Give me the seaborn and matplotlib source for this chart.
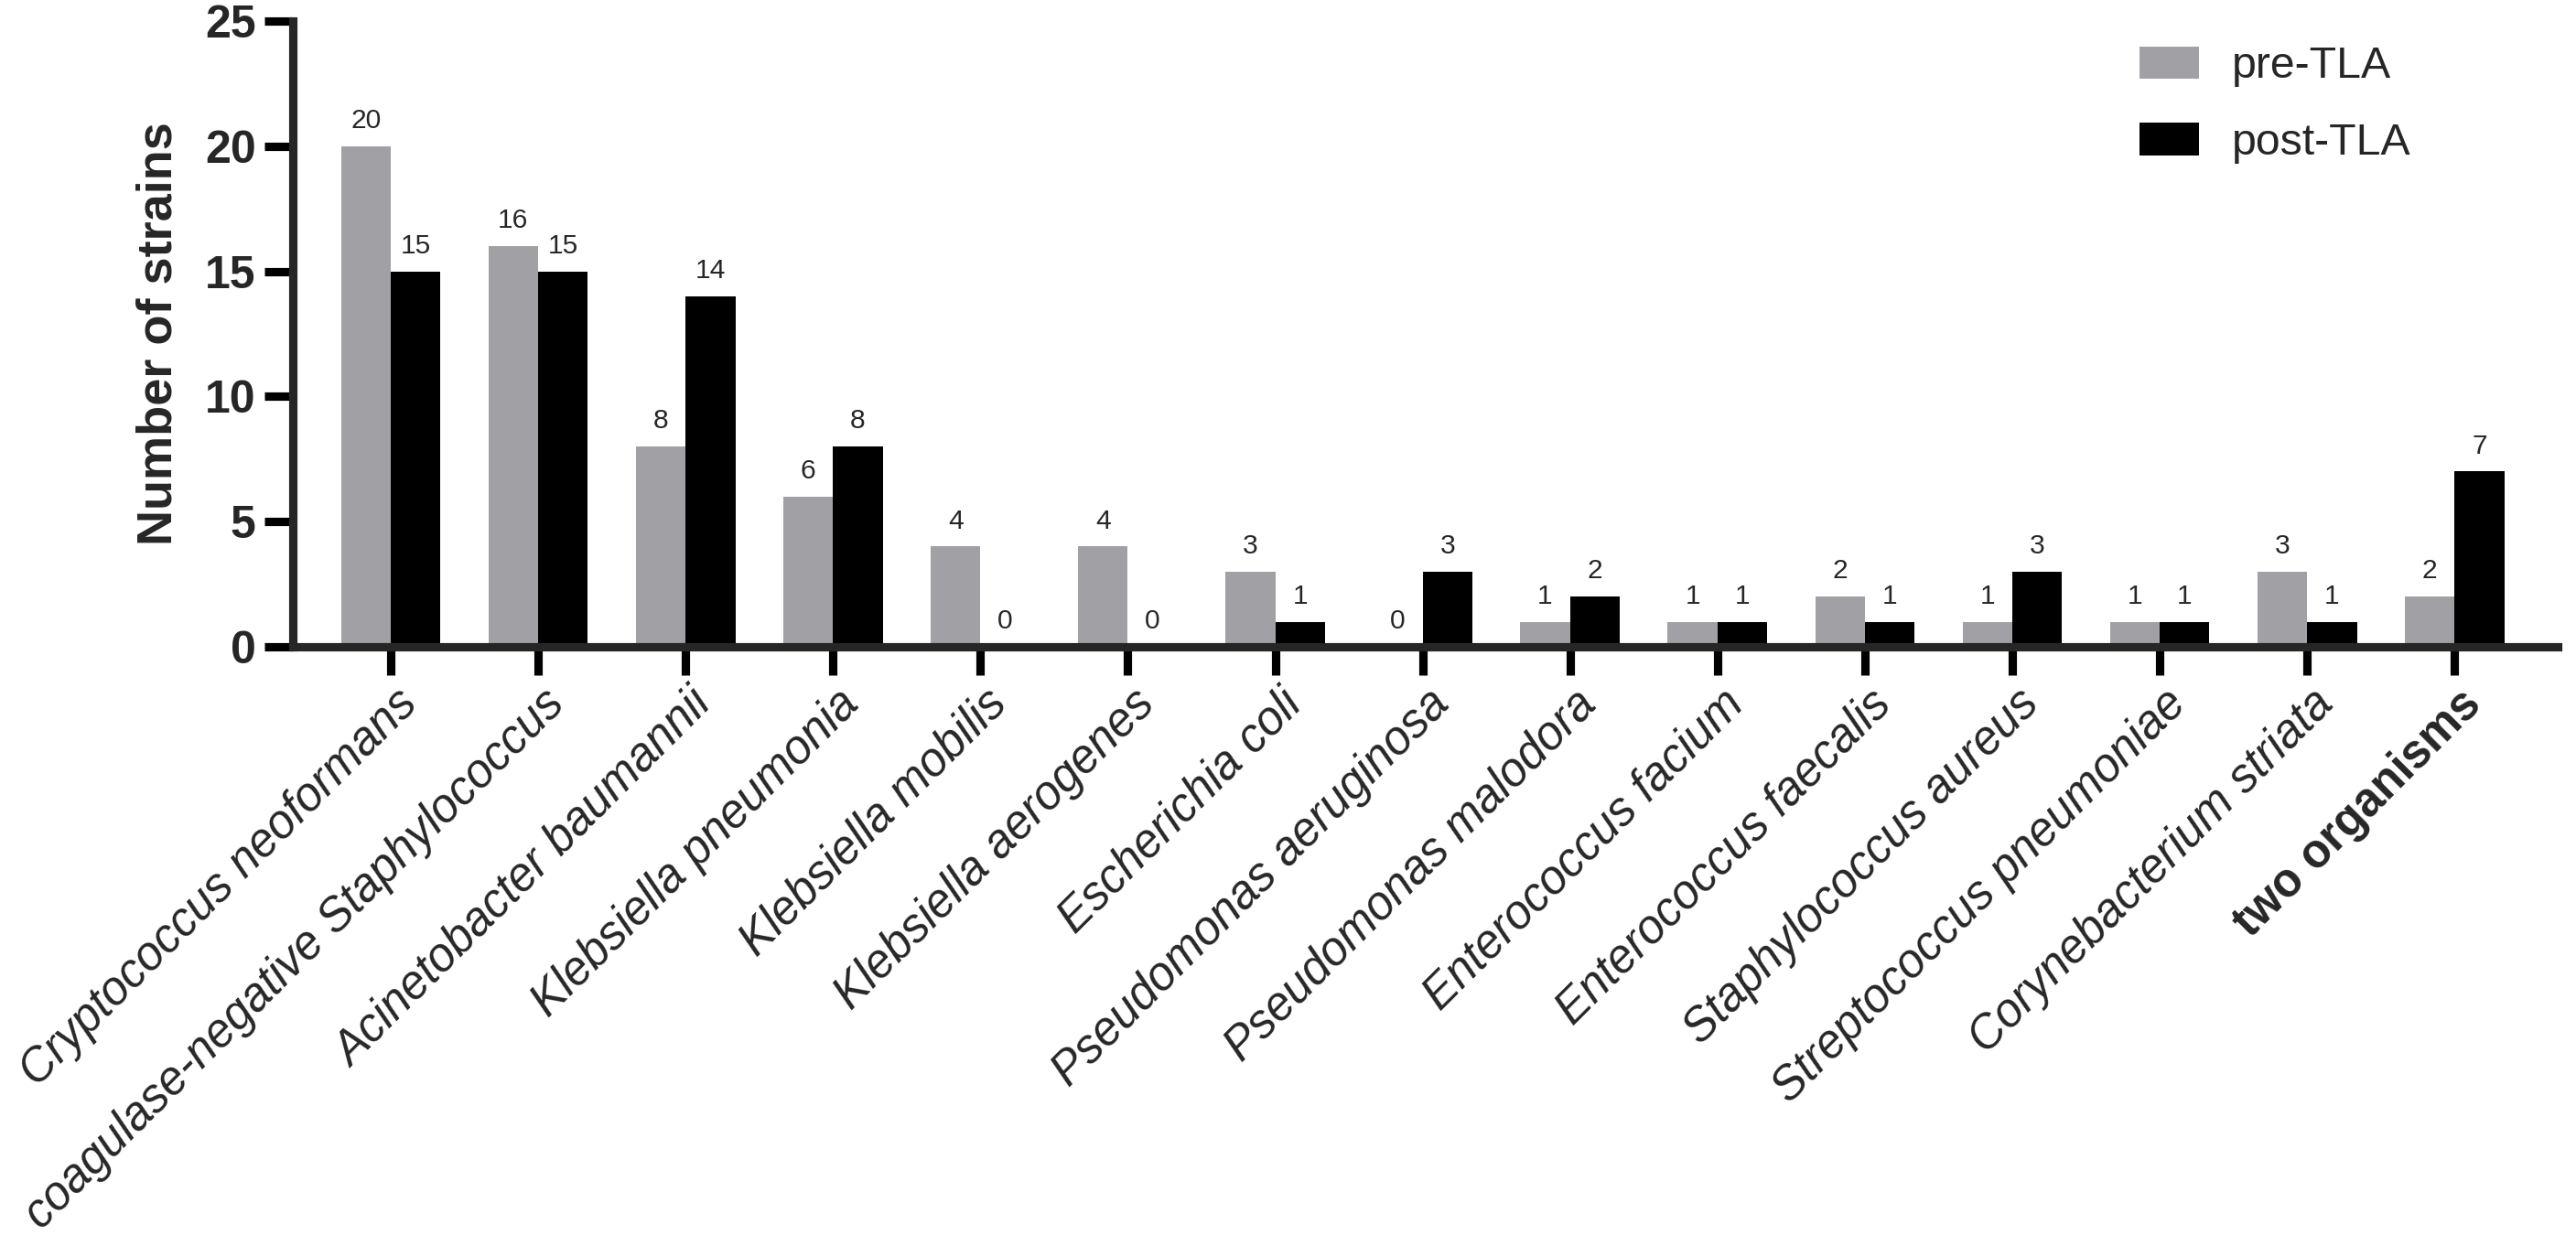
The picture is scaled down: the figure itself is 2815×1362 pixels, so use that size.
import seaborn as sns
import numpy as np
import pandas as pd
import matplotlib.pyplot as plt
from matplotlib.transforms import ScaledTranslation

# data
organisms = [
    "Cryptococcus neoformans",
    "coagulase-negative Staphylococcus",
    "Acinetobacter baumannii",
    "Klebsiella pneumonia",
    "Klebsiella mobilis",
    "Klebsiella aerogenes",
    "Escherichia coli",
    "Pseudomonas aeruginosa",
    "Pseudomonas malodora",
    "Enterococcus facium",
    "Enterococcus faecalis",
    "Staphylococcus aureus",
    "Streptococcus pneumoniae",
    "Corynebacterium striata",
    "two organisms",
]
pre_tla = [20, 16, 8, 6, 4, 4, 3, 0, 1, 1, 2, 1, 1, 3, 2]
post_tla = [15, 15, 14, 8, 0, 0, 1, 3, 2, 1, 1, 3, 1, 1, 7]
periods = ["pre-TLA", "post-TLA"]
colors = ["#a1a1a5", "#000000"]

df = pd.DataFrame({
    "organism": organisms * 2,
    "period": [periods[0]] * len(organisms) + [periods[1]] * len(organisms),
    "strains": pre_tla + post_tla,
})

sns.set_theme(style="ticks")
plt.rcParams["font.family"] = ["Liberation Sans", "DejaVu Sans"]

fig, ax = plt.subplots(figsize=(14.075, 6.81), dpi=200)
fig.subplots_adjust(left=0.1137, right=0.9929, bottom=0.481, top=0.983)

sns.barplot(data=df, x="organism", y="strains", hue="period",
            order=organisms, hue_order=periods, palette=colors,
            width=0.675, gap=0, linewidth=0, saturation=1, ax=ax)

for cont in ax.containers:
    ax.bar_label(cont, fmt="%d", padding=5, fontsize=10.8)

ax.set_ylim(0, 25)
ax.set_yticks(np.arange(0, 26, 5))
ax.set_xlim(-0.664, 14.70)
ax.set_xlabel("")
ax.set_ylabel("Number of strains", fontsize=19.5, fontweight="bold", labelpad=9)

sns.despine(ax=ax)
for side in ["left", "bottom"]:
    ax.spines[side].set_linewidth(3.3)
ax.tick_params(axis="both", direction="out", width=3.3, length=11, color="black")
ax.tick_params(axis="y", labelsize=18, pad=3.6)
ax.tick_params(axis="x", labelsize=18.3, pad=3)
for lab in ax.get_yticklabels():
    lab.set_fontweight("bold")

ax.set_xticks(range(len(organisms)))
ax.set_xticklabels(organisms, rotation=45, ha="right", va="top",
                   rotation_mode="anchor")
# small sideways nudge of the rotated labels
shift = ScaledTranslation(4 / 200, 1 / 200, fig.dpi_scale_trans)
for lab in ax.get_xticklabels():
    lab.set_fontstyle("italic")
    lab.set_transform(lab.get_transform() + shift)
last = ax.get_xticklabels()[-1]
last.set_fontstyle("normal")
last.set_fontweight("bold")

ax.legend(frameon=False, loc="upper left", bbox_to_anchor=(0.815, 0.995),
          bbox_transform=fig.transFigure, fontsize=17.4, handlelength=1.35,
          handleheight=0.75, handletextpad=0.75, labelspacing=0.8, title=None)

fig.savefig("out.png", dpi=200)
